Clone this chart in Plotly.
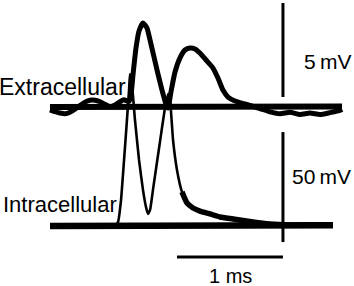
import plotly.graph_objects as go

# ---- Extracellular recording (time in ms, voltage in mV, baseline 0) ----
ext_t = [0.000, 0.048, 0.096, 0.144, 0.192, 0.240, 0.288, 0.337, 0.385, 0.433,
         0.481, 0.529, 0.577, 0.625, 0.673, 0.712, 0.760, 0.779, 0.798, 0.827,
         0.856, 0.894, 0.933, 0.962, 1.000, 1.038, 1.077, 1.115, 1.135, 1.163,
         1.202, 1.250, 1.298, 1.346, 1.394, 1.442, 1.500, 1.567, 1.615, 1.663,
         1.712, 1.779, 1.875, 2.019, 2.115, 2.212, 2.308, 2.404, 2.500, 2.596,
         2.692, 2.788, 2.808]
ext_v = [-0.15, -0.25, -0.32, -0.36, -0.28, -0.12, 0.08, 0.26, 0.36, 0.36,
         0.28, 0.14, 0.02, 0.10, 0.28, 0.38, 0.30, 0.64, 1.70, 3.14,
         4.04, 4.47, 4.20, 3.56, 2.66, 1.76, 0.90, 0.16, -0.05, 0.80,
         1.86, 2.61, 3.03, 3.14, 3.09, 2.87, 2.50, 2.07, 1.54, 0.90,
         0.53, 0.32, 0.16, -0.08, -0.26, -0.36, -0.28, -0.40, -0.32, -0.40,
         -0.30, -0.18, -0.12]
ext_flat_t = [0.000, 0.700, 1.400, 2.100, 2.808]
ext_flat_v = [0.00, 0.00, 0.00, 0.00, 0.03]

# ---- Intracellular recording (time in ms, membrane potential in mV) ----
int_t = [0.000, 0.288, 0.625, 0.654, 0.683, 0.712, 0.740, 0.760, 0.769, 0.788,
         0.817, 0.856, 0.894, 0.923, 0.942, 0.962, 0.990, 1.029, 1.067, 1.106,
         1.135, 1.154, 1.183, 1.221, 1.269, 1.317, 1.375, 1.442, 1.538, 1.635,
         1.760, 1.952, 2.115, 2.308, 2.500, 2.721]
int_v = [-65.0, -65.0, -65.0, -63.2, -53.2, -35.0, -16.8, -3.2, 4.1, -0.5,
         -16.8, -35.0, -48.6, -56.4, -59.5, -57.7, -48.6, -35.9, -23.6, -11.4,
         -5.0, -7.7, -25.9, -39.5, -49.5, -54.5, -56.8, -58.2, -59.5, -60.9,
         -61.8, -63.2, -64.1, -64.5, -64.5, -64.5]
TAIL_START = 24  # index where the slow repolarising tail begins
int_flat_t = [0.000, 0.700, 1.400, 2.100, 2.721]
int_flat_v = [-65.0, -65.0, -65.0, -65.0, -64.7]

# ---- Scale bars ----
bar_t = 2.240                 # ms, position of vertical bars
ext_bar_v = [0.53, 5.53]      # 5 mV
int_bar_v = [-72.3, -22.3]    # 50 mV
time_bar_t = [1.221, 2.240]   # 1 ms
time_bar_v = -79.1

fig = go.Figure()
blk = "black"

fig.add_trace(go.Scatter(x=ext_flat_t, y=ext_flat_v, mode="lines",
                         line=dict(color=blk, width=6), yaxis="y"))
fig.add_trace(go.Scatter(x=ext_t, y=ext_v, mode="lines",
                         line=dict(color=blk, width=5, shape="spline", smoothing=0.5),
                         yaxis="y"))
fig.add_trace(go.Scatter(x=int_flat_t, y=int_flat_v, mode="lines",
                         line=dict(color=blk, width=6.5), yaxis="y2"))
fig.add_trace(go.Scatter(x=int_t, y=int_v, mode="lines",
                         line=dict(color=blk, width=2.6, shape="spline", smoothing=0.4),
                         yaxis="y2"))
fig.add_trace(go.Scatter(x=int_t[TAIL_START:], y=int_v[TAIL_START:], mode="lines",
                         line=dict(color=blk, width=5.5, shape="spline", smoothing=0.5),
                         yaxis="y2"))
# scale bars
fig.add_trace(go.Scatter(x=[bar_t, bar_t], y=ext_bar_v, mode="lines",
                         line=dict(color=blk, width=3), yaxis="y"))
fig.add_trace(go.Scatter(x=[bar_t, bar_t], y=int_bar_v, mode="lines",
                         line=dict(color=blk, width=3), yaxis="y2"))
fig.add_trace(go.Scatter(x=time_bar_t, y=[time_bar_v, time_bar_v], mode="lines",
                         line=dict(color=blk, width=3), yaxis="y2"))

font = dict(family="Liberation Sans, Arial, sans-serif", color=blk)
W, H = 354, 286


def ann(text, xpx, ypx, size, xanchor="left"):
    fig.add_annotation(text=text, x=xpx / W, y=1 - ypx / H, xref="paper", yref="paper",
                       xanchor=xanchor, yanchor="middle", showarrow=False,
                       font=dict(size=size, **font))


ann("Extracellular", -3, 87, 23)
ann("Intracellular", 1, 204, 22)
ann("5\u2009mV", 302, 62, 21)
ann("50\u2009mV", 290, 176, 21)
ann("1 ms", 230, 276, 20, xanchor="center")

fig.update_layout(
    width=W, height=H, margin=dict(l=0, r=0, t=0, b=0),
    paper_bgcolor="white", plot_bgcolor="white", showlegend=False,
    xaxis=dict(range=[-0.4808, 2.9231], visible=False, fixedrange=True),
    yaxis=dict(range=[-9.521, 5.691], visible=False, fixedrange=True),
    yaxis2=dict(range=[-92.273, 37.727], visible=False, overlaying="y", fixedrange=True),
)

fig.write_html("out.html", config={"displayModeBar": False})
